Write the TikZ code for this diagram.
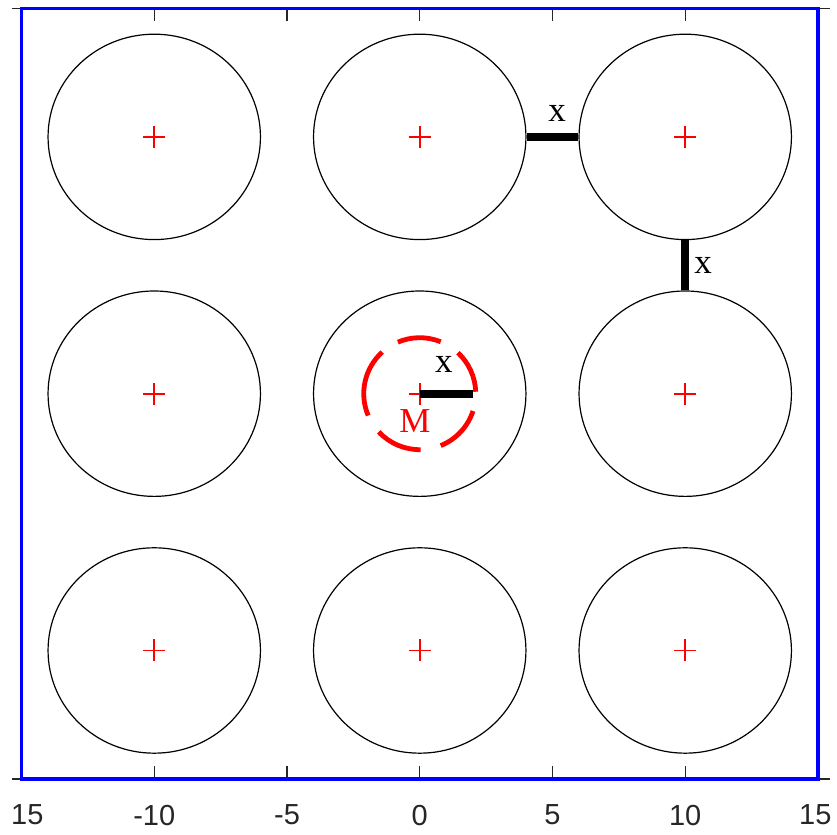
\documentclass[tikz,border=0pt]{standalone}
\usepackage{fontspec}
\setmainfont{Liberation Serif}
\setsansfont{Liberation Sans}
\usetikzlibrary{shapes.geometric}
\definecolor{tickgrey}{gray}{0.15}

\begin{document}
\begin{tikzpicture}[x=26.55pt, y=25.68pt,
    cell/.style={ellipse, draw=black, line width=1.2pt,
        minimum width=212.4pt, minimum height=205.4pt, inner sep=0pt},
    centre/.style={draw=red, line width=1.9pt},
    gap/.style={black, line width=7.8pt},
    ring/.style={red, line width=4.8pt},
    frame/.style={draw=blue, line width=3.5pt},
    tick/.style={tickgrey, line width=1.3pt},
    ticklab/.style={font=\sffamily\fontsize{29}{29}\selectfont,
        text=tickgrey, inner sep=0pt},
    lab/.style={font=\fontsize{35}{35}\selectfont, inner sep=0pt}
]
    \useasboundingbox (-15.81,-17.185) rectangle (15.716,15.331);

    % cells on the 3x3 grid, with their centres
    \foreach \i/\x in {a/-10,b/0,c/10}
      \foreach \j/\y in {1/10,2/0,3/-10}
      {
        \node[cell] (\i\j) at (\x,\y) {};
        \draw[centre] (\i\j.center) ++(-11pt,0) -- ++(22pt,0)
                      (\i\j.center) ++(0,-11pt) -- ++(0,22pt);
      }

    % dashed ring round the middle cell
    \foreach \s/\e in {2/47,68/113,132/203,223/271,292/342}
      \draw[ring] (b2.center) ++(\s:56pt) arc[start angle=\s, end angle=\e, radius=56pt];

    \coordinate (rim) at (2,0);
    \draw[gap] (b1.east) -- (c1.west);
    \draw[gap] (c1.south) -- (c2.north);
    \draw[gap] (b2.center) -- (rim);

    \node[lab] (xtop)   at (5.17,10.93) {x};
    \node[lab] (xright) at (10.67,5.0) {x};
    \node[lab] (xmid)   at (0.91,1.12) {x};
    \node[lab, text=red] (mlab) at (-0.18,-1.05) {M};

    % axes
    \draw[tick] (-15.36,15) -- (15.45,15) (-15.36,-15) -- (15.45,-15);
    \foreach \t in {-10,-5,0,5,10}
      \draw[tick] (\t,15) -- ++(0,-13pt) (\t,-15) -- ++(0,13pt);
    \draw[frame] (-15,-15) rectangle (15,15);

    \node[ticklab] (tleft) at (-14.78,-16.41) {15};
    \foreach \t in {-10,-5,0,5,10}
      \node[ticklab] (t\t) at (\t,-16.41) {\t};
    \node[ticklab] (tright) at (14.9,-16.41) {15};
\end{tikzpicture}
\end{document}
